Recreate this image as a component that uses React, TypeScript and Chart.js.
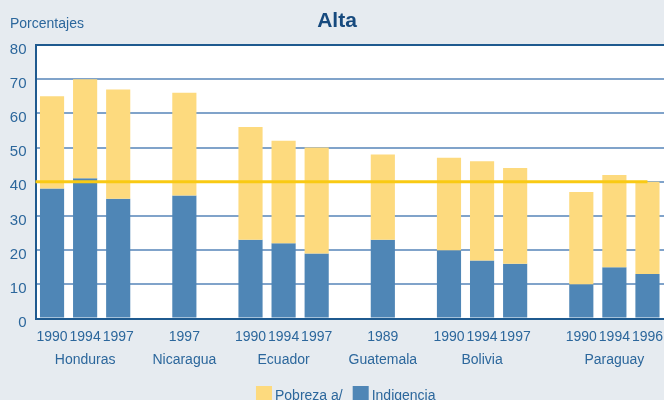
import React, { useEffect, useRef } from 'react';
import { Chart, registerables } from 'chart.js';

Chart.register(...registerables);

// ---- data ----
const countries = ['Honduras', 'Nicaragua', 'Ecuador', 'Guatemala', 'Bolivia', 'Paraguay'];
const years = [
  ['1990', '1994', '1997'],
  ['1997'],
  ['1990', '1994', '1997'],
  ['1989'],
  ['1990', '1994', '1997'],
  ['1990', '1994', '1996'],
];
const pobreza = [[65, 70, 67], [66], [56, 52, 50], [48], [47, 46, 44], [37, 42, 40]];
const indigencia = [[38, 41, 35], [36], [23, 22, 19], [23], [20, 17, 16], [10, 15, 13]];
const yTicks = [0, 10, 20, 30, 40, 50, 60, 70, 80];
const threshold = 40;
const titleText = 'Alta';
const yTitleText = 'Porcentajes';
const seriesNames = ['Pobreza a/', 'Indigencia'];

// ---- styles ----
const BG = '#E6EBF0';
const DARK = '#1F5A8F';
const GRID = '#80A3CA';
const TEXT = '#2C679C';
const TITLE = '#174A7E';
const YELLOW = '#FDDA7E';
const BLUE = '#4F86B6';
const LINE = '#F9CA14';
const FONT = "'Liberation Sans', Arial, sans-serif";
const FS = 14;

// build category table (one empty slot between countries)
const labels: (string | string[])[] = [];
const pobData: ([number, number] | null)[] = [];
const indData: (number | null)[] = [];
countries.forEach((c, g) => {
  if (g > 0) {
    labels.push('');
    pobData.push(null);
    indData.push(null);
  }
  const mid = Math.floor(years[g].length / 2);
  years[g].forEach((yr, i) => {
    labels.push(i === mid ? [yr, c] : yr);
    pobData.push([indigencia[g][i], pobreza[g][i]]);
    indData.push(indigencia[g][i]);
  });
});

const decor = {
  id: 'decor',
  beforeDraw(chart: any) {
    const { ctx, chartArea: a, width, height } = chart;
    ctx.save();
    ctx.fillStyle = BG;
    ctx.fillRect(0, 0, width, height);
    ctx.fillStyle = '#ffffff';
    ctx.fillRect(a.left, a.top, a.right - a.left, a.bottom - a.top);
    ctx.restore();
  },
  afterDatasetsDraw(chart: any) {
    const { ctx, chartArea: a, scales } = chart;
    const py = scales.y.getPixelForValue(threshold);
    const endX = scales.x.getPixelForValue(labels.length - 1);
    ctx.save();
    ctx.strokeStyle = LINE;
    ctx.lineWidth = 3;
    ctx.beginPath();
    ctx.moveTo(a.left, py);
    ctx.lineTo(endX, py);
    ctx.stroke();
    ctx.restore();
  },
  afterDraw(chart: any) {
    const { ctx, chartArea: a, width } = chart;
    ctx.save();
    // title
    ctx.fillStyle = TITLE;
    ctx.font = `bold 21px ${FONT}`;
    ctx.textAlign = 'center';
    ctx.textBaseline = 'alphabetic';
    ctx.fillText(titleText, width / 2 + 5, 27);
    // y title
    ctx.fillStyle = TEXT;
    ctx.font = `${FS}px ${FONT}`;
    ctx.textAlign = 'left';
    ctx.fillText(yTitleText, 10, 28);
    // legend
    const ds = chart.data.datasets;
    const box = 16, gapText = 3, gapItem = 10;
    const widths = ds.map((d: any) => ctx.measureText(d.label).width);
    let total = 0;
    widths.forEach((w: number, i: number) => {
      total += box + gapText + w + (i < widths.length - 1 ? gapItem : 0);
    });
    let x = (a.left + a.right) / 2 - 4 - total / 2;
    ds.forEach((d: any, i: number) => {
      ctx.fillStyle = d.backgroundColor;
      ctx.fillRect(x, 386, box, box);
      ctx.fillStyle = TEXT;
      ctx.fillText(d.label, x + box + gapText, 400);
      x += box + gapText + widths[i] + gapItem;
    });
    ctx.restore();
  },
};

export default function App() {
  const ref = useRef<HTMLCanvasElement>(null);
  useEffect(() => {
    if (!ref.current) return;
    const chart = new Chart(ref.current, {
      type: 'bar',
      data: {
        labels,
        datasets: [
          {
            label: seriesNames[0],
            data: pobData as any,
            backgroundColor: YELLOW,
            grouped: false,
            barPercentage: 0.73,
            categoryPercentage: 1,
          } as any,
          {
            label: seriesNames[1],
            data: indData,
            backgroundColor: BLUE,
            grouped: false,
            barPercentage: 0.73,
            categoryPercentage: 1,
          } as any,
        ],
      },
      options: {
        responsive: false,
        animation: false,
        devicePixelRatio: 1,
        layout: { padding: { top: 45, bottom: 28, left: 0, right: 0 } },
        plugins: {
          legend: { display: false },
          title: { display: false },
          tooltip: { enabled: false },
        },
        scales: {
          x: {
            type: 'category',
            offset: true,
            grid: { color: 'transparent', drawTicks: true, tickLength: 7.5, tickColor: 'transparent' },
            border: { color: DARK, width: 2 },
            ticks: {
              autoSkip: false,
              maxRotation: 0,
              padding: 0,
              color: TEXT,
              font: { family: FONT, size: FS, lineHeight: 23 / FS },
            },
            afterFit(scale: any) {
              scale.paddingRight = 0;
              scale.paddingLeft = 0;
            },
          },
          y: {
            min: yTicks[0],
            max: yTicks[yTicks.length - 1],
            ticks: {
              stepSize: yTicks[1] - yTicks[0],
              color: TEXT,
              padding: 9,
              labelOffset: 4.5,
              font: { family: FONT, size: 15 },
            },
            grid: {
              drawTicks: false,
              lineWidth: 2,
              color: (c: any) =>
                c.tick && c.tick.value === yTicks[yTicks.length - 1] ? DARK : GRID,
            },
            border: { color: DARK, width: 2 },
            afterFit(scale: any) {
              scale.width = 35.5;
            },
          },
        },
      },
      plugins: [decor],
    } as any);
    return () => chart.destroy();
  }, []);
  return (
    <div style={{ position: 'fixed', left: 0, top: 0, width: 664, height: 400, background: BG }}>
      <canvas ref={ref} width={664} height={400} style={{ display: 'block', width: 664, height: 400 }} />
    </div>
  );
}
